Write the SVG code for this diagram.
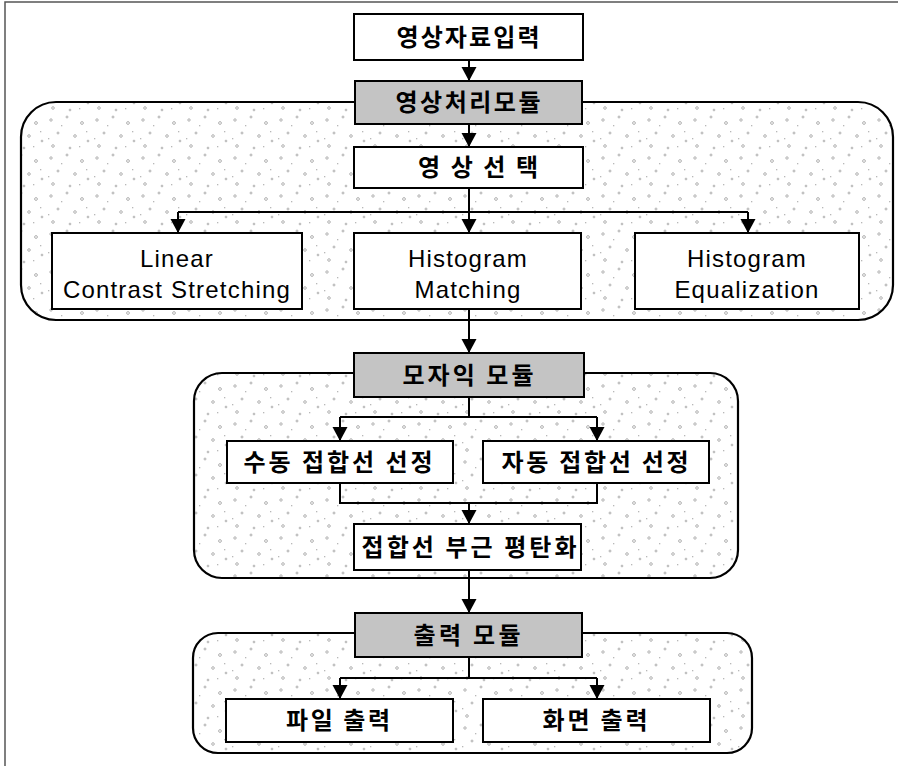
<svg xmlns="http://www.w3.org/2000/svg" width="898" height="766" viewBox="0 0 898 766">
<style>
.box{fill:#fff;stroke:#000;stroke-width:2}
.hdr{fill:#c4c4c4;stroke:#000;stroke-width:2}
.region{fill:url(#speck);stroke:#000;stroke-width:2.2}
.kr{font-family:"Noto Sans CJK KR","Noto Sans",sans-serif;font-size:24px;font-weight:700;fill:#000;text-anchor:middle}
.en{font-family:"Liberation Sans",Arial,sans-serif;font-size:24px;letter-spacing:1.2px;fill:#000;text-anchor:middle}
.ln{fill:none;stroke:#000;stroke-width:2}
.arr{fill:none;stroke:#000;stroke-width:2;marker-end:url(#ah)}
</style>
<defs>
<marker id="ah" markerUnits="userSpaceOnUse" markerWidth="16" markerHeight="16" refX="14" refY="7.5" orient="auto" viewBox="0 0 16 16">
<path d="M0,0 L14,7.5 L0,15 z" fill="#000"/>
</marker>
<pattern id="speck" width="46" height="38" patternUnits="userSpaceOnUse">
<rect width="46" height="38" fill="#fff"/>
<g fill="none" stroke="#a8a8a8" stroke-width="0.9">
<circle cx="5" cy="6" r="1.2"/>
<circle cx="21" cy="3" r="1"/>
<circle cx="36" cy="9" r="1.4"/>
<circle cx="12" cy="19" r="1"/>
<circle cx="29" cy="22" r="1.3"/>
<circle cx="42" cy="27" r="0.9"/>
<circle cx="7" cy="32" r="1.3"/>
<circle cx="24" cy="34" r="0.9"/>
</g>
<g fill="#b8b8b8">
<rect x="15" y="11" width="1.3" height="1.3"/>
<rect x="40" y="17" width="1.3" height="1.3"/>
<rect x="2" y="24" width="1.3" height="1.3"/>
<rect x="33" y="32" width="1.3" height="1.3"/>
</g>
</pattern>
</defs>
<rect width="898" height="766" fill="#fff"/>
<path d="M5,766 L5,2 L898,2" fill="none" stroke="#555" stroke-width="1.5"/>

<g id="module-regions">
<rect id="region-image" class="region" x="21" y="102" width="872" height="218" rx="35" ry="35"/>
<rect id="region-mosaic" class="region" x="194" y="373" width="544" height="205" rx="28" ry="28"/>
<rect id="region-output" class="region" x="193" y="633" width="559" height="120" rx="25" ry="25"/>
</g>

<g id="connectors">
<line class="arr" x1="469" y1="60" x2="469" y2="81"/>
<line class="arr" x1="469" y1="124" x2="469" y2="147"/>
<path class="ln" d="M469,188 V212 M178,212 H748"/>
<line class="arr" x1="178" y1="212" x2="178" y2="233"/>
<line class="arr" x1="469" y1="212" x2="469" y2="233"/>
<line class="arr" x1="748" y1="212" x2="748" y2="233"/>
<line class="arr" x1="469" y1="309" x2="469" y2="353"/>
<path class="ln" d="M469,397 V417 M340,417 H597"/>
<line class="arr" x1="340" y1="417" x2="340" y2="441"/>
<line class="arr" x1="597" y1="417" x2="597" y2="441"/>
<path class="ln" d="M340,483 V503 H597 V483"/>
<line class="arr" x1="469" y1="503" x2="469" y2="524"/>
<line class="arr" x1="469" y1="570" x2="469" y2="613"/>
<path class="ln" d="M469,657 V678 M340,678 H597"/>
<line class="arr" x1="340" y1="678" x2="340" y2="699"/>
<line class="arr" x1="597" y1="678" x2="597" y2="699"/>
</g>

<g id="input">
<rect class="box" x="354" y="14" width="229" height="46"/>
<text class="kr" x="468" y="46" textLength="143" lengthAdjust="spacing">영상자료입력</text>
</g>
<g id="image-module">
<rect class="hdr" x="355" y="81" width="227" height="43"/>
<text class="kr" x="468" y="111" textLength="145" lengthAdjust="spacing">영상처리모듈</text>
</g>
<g id="image-select">
<rect class="box" x="354" y="147" width="229" height="41"/>
<text class="kr" x="478" y="176" textLength="120" lengthAdjust="spacing">영상선택</text>
</g>
<g id="linear">
<rect class="box" x="52" y="233" width="250" height="76"/>
<text class="en" x="177" y="267">Linear</text>
<text class="en" x="177" y="298">Contrast Stretching</text>
</g>
<g id="matching">
<rect class="box" x="354" y="233" width="227" height="76"/>
<text class="en" x="468" y="267">Histogram</text>
<text class="en" x="468" y="298">Matching</text>
</g>
<g id="equalization">
<rect class="box" x="635" y="233" width="224" height="76"/>
<text class="en" x="747" y="267">Histogram</text>
<text class="en" x="747" y="298">Equalization</text>
</g>
<g id="mosaic-module">
<rect class="hdr" x="354" y="353" width="230" height="44"/>
<text class="kr" x="468" y="384" textLength="131" lengthAdjust="spacing">모자익 모듈</text>
</g>
<g id="manual-seam">
<rect class="box" x="227" y="441" width="226" height="42"/>
<text class="kr" x="338" y="471" textLength="189" lengthAdjust="spacing">수동 접합선 선정</text>
</g>
<g id="auto-seam">
<rect class="box" x="483" y="441" width="226" height="42"/>
<text class="kr" x="595" y="471" textLength="187" lengthAdjust="spacing">자동 접합선 선정</text>
</g>
<g id="seam-smoothing">
<rect class="box" x="354" y="524" width="227" height="46"/>
<text class="kr" x="469" y="556" textLength="215" lengthAdjust="spacing">접합선 부근 평탄화</text>
</g>
<g id="output-module">
<rect class="hdr" x="355" y="613" width="227" height="44"/>
<text class="kr" x="467" y="644" textLength="107" lengthAdjust="spacing">출력 모듈</text>
</g>
<g id="file-output">
<rect class="box" x="226" y="699" width="227" height="43"/>
<text class="kr" x="338" y="729" textLength="104" lengthAdjust="spacing">파일 출력</text>
</g>
<g id="screen-output">
<rect class="box" x="483" y="699" width="227" height="43"/>
<text class="kr" x="595" y="729" textLength="105" lengthAdjust="spacing">화면 출력</text>
</g>
</svg>
